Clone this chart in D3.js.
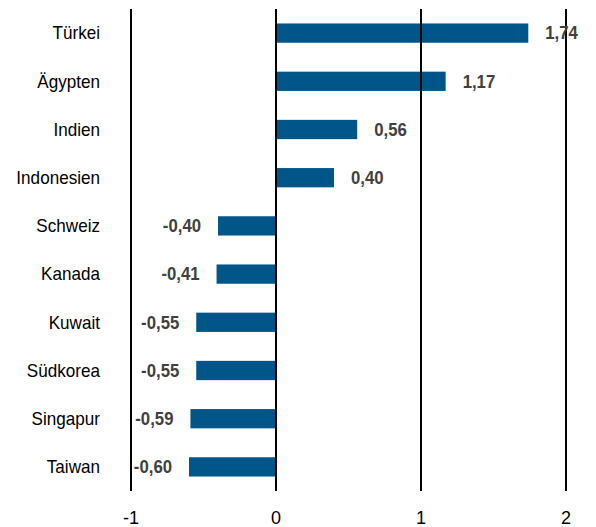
<!DOCTYPE html>
<html>
<head>
<meta charset="utf-8">
<script src="https://cdn.jsdelivr.net/npm/d3@7"></script>
<style>
  body { margin: 0; background: #fff; }
  svg { display: block; }
</style>
</head>
<body>
<div id="container"></div>
<script>
const countries = ['Türkei', 'Ägypten', 'Indien', 'Indonesien', 'Schweiz', 'Kanada', 'Kuwait', 'Südkorea', 'Singapur', 'Taiwan']
const values = [1.74, 1.17, 0.56, 0.40, -0.40, -0.41, -0.55, -0.55, -0.59, -0.60]
const ticks = [-1, 0, 1, 2]

const width = 596
const height = 527
const font = '"Liberation Sans", Arial, sans-serif'
const fmt = v => v.toFixed(2).replace('.', ',')

const svg = d3.select('#container')
  .append('svg')
  .attr('width', width)
  .attr('height', height)

const x = d3.scaleLinear().domain([-1, 2]).range([131, 566])
const y = d3.scaleBand().domain(countries).range([9, 491]).paddingInner(0.6).paddingOuter(0.3)

const data = countries.map((c, i) => ({ name: c, value: values[i] }))

// bars
svg.selectAll('.bar')
  .data(data)
  .enter()
  .append('rect')
  .attr('class', 'bar')
  .attr('x', d => x(Math.min(0, d.value)))
  .attr('y', d => y(d.name))
  .attr('width', d => Math.abs(x(d.value) - x(0)))
  .attr('height', y.bandwidth())
  .attr('fill', '#005589')

// vertical gridlines
svg.selectAll('.grid')
  .data(ticks)
  .enter()
  .append('line')
  .attr('class', 'grid')
  .attr('x1', d => x(d))
  .attr('x2', d => x(d))
  .attr('y1', 9)
  .attr('y2', 491)
  .attr('stroke', '#000')
  .attr('stroke-width', 2)

// bottom tick labels
svg.selectAll('.tick-label')
  .data(ticks)
  .enter()
  .append('text')
  .attr('class', 'tick-label')
  .attr('x', d => x(d))
  .attr('y', 524)
  .attr('text-anchor', 'middle')
  .attr('font-family', font)
  .attr('font-size', 18)
  .attr('fill', '#000')
  .text(d => d)

// category labels (slightly condensed to mimic the narrow face)
svg.selectAll('.cat')
  .data(data)
  .enter()
  .append('text')
  .attr('class', 'cat')
  .attr('transform', d => `translate(100,${y(d.name) + y.bandwidth() / 2}) scale(0.95,1)`)
  .attr('dy', '0.35em')
  .attr('text-anchor', 'end')
  .attr('font-family', font)
  .attr('font-size', 18)
  .attr('fill', '#000')
  .text(d => d.name)

// value labels
svg.selectAll('.val')
  .data(data)
  .enter()
  .append('text')
  .attr('class', 'val')
  .attr('transform', d => `translate(${d.value >= 0 ? x(d.value) + 17 : x(d.value) - 17},${y(d.name) + y.bandwidth() / 2}) scale(0.93,1)`)
  .attr('dy', '0.35em')
  .attr('text-anchor', d => d.value >= 0 ? 'start' : 'end')
  .attr('font-family', font)
  .attr('font-size', 18)
  .attr('font-weight', 'bold')
  .attr('fill', '#404040')
  .text(d => fmt(d.value))
</script>
</body>
</html>
